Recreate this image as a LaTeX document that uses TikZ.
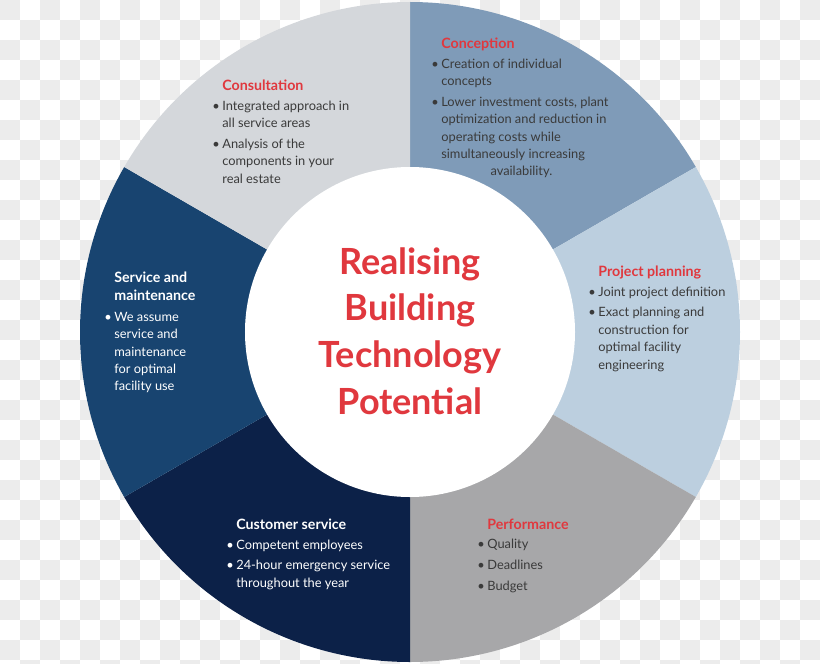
\documentclass[tikz,border=0pt]{standalone}
\usepackage{fontspec}
\setmainfont{Lato}
\usepackage{xcolor}

\definecolor{conccol}{HTML}{7F9BB8}
\definecolor{plancol}{HTML}{BCCFDF}
\definecolor{perfcol}{HTML}{A7A7A9}
\definecolor{custcol}{HTML}{0C2148}
\definecolor{servcol}{HTML}{184470}
\definecolor{conscol}{HTML}{D4D7DB}
\definecolor{headred}{HTML}{E0383E}
\definecolor{bodytxt}{HTML}{3A3A3A}
\definecolor{checker}{HTML}{ECECEC}

\newcommand{\bl}{\llap{\textbullet\hspace{1.5pt}}}
\newcommand{\hd}[1]{{\fontsize{8.1}{9.9}\selectfont\bfseries\color{headred}#1}}
\newcommand{\hdw}[1]{{\fontsize{8.1}{9.9}\selectfont\bfseries #1}}

\begin{document}
\begin{tikzpicture}[
      x=0.02cm, y=0.02cm,
      blk/.style={anchor=north west, inner sep=0pt, align=left, font=\fontsize{7.3}{9.9}\selectfont, text=bodytxt},
      blkdark/.style={blk, text=white},
      title/.style={align=center, inner sep=0pt, font=\fontsize{20.5}{26.5}\selectfont\bfseries, text=headred}
    ]
    \useasboundingbox (-410,-331) rectangle (410,332);
    \begin{scope}
      \clip (-410,-331) rectangle (410,332);
      \foreach \i in {0,...,40}{\foreach \j in {0,...,33}{\ifodd\numexpr\i+\j\relax\else\fill[checker] (\i*20-410,332-\j*20) rectangle ++(20,-20);\fi}}
    \end{scope}

    \foreach \a/\b/\c in {90/30/conccol, 30/-30/plancol, -30/-90/perfcol, -90/-150/custcol, -150/-210/servcol, 150/90/conscol}
      \fill[\c] (0,0) -- (\a:330) arc[start angle=\a, end angle=\b, radius=330] -- cycle;
    \fill[white] (0,0) circle[radius=165];

    \node[title] (core) at (0,1) {Realising\\Building\\Technology\\Potential};

    \node[blk] (conception) at (31,294) {\hd{Conception}\\[1pt]
      \bl Creation of individual\\ concepts\\[2pt]
      \bl Lower investment costs, plant\\ optimization and reduction in\\ operating costs while\\ simultaneously increasing\\ \hspace*{28pt}availability.};
    \node[blk] (consultation) at (-188,252) {\hd{Consultation}\\[1pt]
      \bl Integrated approach in\\ all service areas\\[2pt]
      \bl Analysis of the\\ components in your\\ real estate};
    \node[blk] (planning) at (188,66) {\hd{Project planning}\\[1pt]
      \bl Joint project definition\\[2pt]
      \bl Exact planning and\\ construction for\\ optimal facility\\ engineering};
    \node[blkdark] (service) at (-296,60) {\hdw{Service and}\\ \hdw{maintenance}\\[2pt]
      \bl We assume\\ service and\\ maintenance\\ for optimal\\ facility use};
    \node[blkdark] (customer) at (-174,-187) {\hdw{Customer service}\\[1pt]
      \bl Competent employees\\[2pt]
      \bl 24-hour emergency service\\ throughout the year};
    \node[blk] (performance) at (77,-187) {\hd{Performance}\\[1pt]
      \bl Quality\\[2pt]
      \bl Deadlines\\[2pt]
      \bl Budget};
  \end{tikzpicture}
\end{document}
